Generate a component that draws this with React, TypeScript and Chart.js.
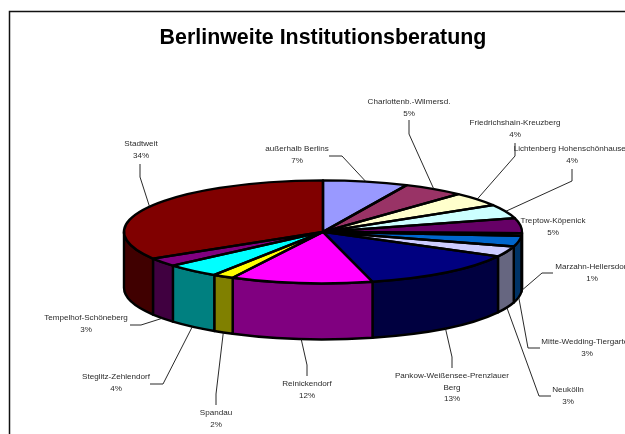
import React, { useEffect, useRef } from "react";
import { Chart, registerables } from "chart.js";

Chart.register(...registerables);

const chartTitle = "Berlinweite Institutionsberatung";
const categories = [
  "außerhalb Berlins",
  "Charlottenb.-Wilmersd.",
  "Friedrichshain-Kreuzberg",
  "Lichtenberg Hohenschönhausen",
  "Treptow-Köpenick",
  "Marzahn-Hellersdorf",
  "Mitte-Wedding-Tiergarten",
  "Neukölln",
  "Pankow-Weißensee-Prenzlauer\nBerg",
  "Reinickendorf",
  "Spandau",
  "Steglitz-Zehlendorf",
  "Tempelhof-Schöneberg",
  "Stadtweit",
];
const shares = [6.9, 5.0, 4.4, 4.4, 4.7, 0.8, 3.4, 3.3, 13.1, 11.5, 1.7, 4.4, 2.7, 33.7];
const sliceColors = [
  "#9999FF", "#993366", "#FFFFCC", "#CCFFFF", "#660066", "#FF8080", "#0066CC",
  "#CCCCFF", "#000080", "#FF00FF", "#FFFF00", "#00FFFF", "#800080", "#800000",
];

// Label placement: [text centre x, first line y]
const labelAnchors: number[][] = [
  [297, 149], [409, 102], [515, 123], [572, 149], [553, 221], [592, 267], [587, 342],
  [568, 390], [452, 376], [307, 384], [216, 413], [116, 377], [86, 318], [141, 144],
];
// Leader elbows, from the text side to the pie (empty: no leader line)
const leaderElbows: number[][][] = [
  [[329, 156], [342, 156]],
  [[409, 120], [409, 134]],
  [[515, 143], [515, 156]],
  [[572, 169], [572, 181]],
  [],
  [[553, 273], [542, 273]],
  [[540, 348], [528, 348]],
  [[551, 396], [539, 396]],
  [[452, 368], [452, 357]],
  [[307, 376], [307, 365]],
  [[216, 405], [216, 394]],
  [[150, 384], [163, 384]],
  [[130, 325], [141, 325]],
  [[140, 164], [140, 177]],
];

const PIE_RADIUS = 199;
const TILT = 0.2588;
const DEPTH = 56;
const LINE_GAP = 11.6;
const OUTLINE = 2.4;
const LABEL_FONT = '8.1px "Liberation Sans", Arial, sans-serif';

function darken(hex: string): string {
  const n = parseInt(hex.slice(1), 16);
  const f = (v: number) => Math.round(v / 2);
  return `rgb(${f((n >> 16) & 255)},${f((n >> 8) & 255)},${f(n & 255)})`;
}

const pie3d = {
  id: "pie3d",
  beforeDraw(chart: any) {
    const { ctx, width, height } = chart;
    ctx.save();
    ctx.fillStyle = "#fff";
    ctx.fillRect(0, 0, width, height);
    // Sheet frame, running off the right and bottom of the page
    ctx.strokeStyle = "#111";
    ctx.lineWidth = 1.5;
    ctx.beginPath();
    ctx.moveTo(9.5, height);
    ctx.lineTo(9.5, 11.5);
    ctx.lineTo(width, 11.5);
    ctx.stroke();
    ctx.restore();
  },
  beforeDatasetsDraw(chart: any) {
    const { ctx } = chart;
    const arcs = chart.getDatasetMeta(0).data;
    const { x: cx, y: cy } = arcs[0];
    const squash = () => {
      ctx.translate(cx, cy);
      ctx.scale(1, TILT);
      ctx.translate(-cx, -cy);
    };
    // Outer wall of each slice, only where the rim faces the viewer
    arcs.forEach((arc: any, i: number) => {
      const a0 = Math.max(arc.startAngle, 0);
      const a1 = Math.min(arc.endAngle, Math.PI);
      if (a1 <= a0) return;
      const r = arc.outerRadius;
      ctx.save();
      ctx.beginPath();
      ctx.save();
      ctx.translate(0, DEPTH);
      squash();
      ctx.arc(cx, cy, r, a0, a1);
      ctx.restore();
      ctx.save();
      squash();
      ctx.arc(cx, cy, r, a1, a0, true);
      ctx.restore();
      ctx.closePath();
      ctx.fillStyle = darken(sliceColors[i]);
      ctx.fill();
      ctx.strokeStyle = "#000";
      ctx.lineWidth = OUTLINE;
      ctx.lineJoin = "round";
      ctx.stroke();
      ctx.restore();
    });
    ctx.save();
    squash();
  },
  afterDatasetsDraw(chart: any) {
    const { ctx } = chart;
    ctx.restore();
    const arcs = chart.getDatasetMeta(0).data;
    const { x: cx, y: cy } = arcs[0];
    // Slice outlines on the top face, at an even pen width
    arcs.forEach((arc: any) => {
      ctx.save();
      ctx.beginPath();
      ctx.save();
      ctx.translate(cx, cy);
      ctx.scale(1, TILT);
      ctx.moveTo(0, 0);
      ctx.arc(0, 0, arc.outerRadius, arc.startAngle, arc.endAngle);
      ctx.closePath();
      ctx.restore();
      ctx.strokeStyle = "#000";
      ctx.lineWidth = OUTLINE;
      ctx.lineJoin = "round";
      ctx.stroke();
      ctx.restore();
    });
    // Leaders and labels
    const total = shares.reduce((a, b) => a + b, 0);
    ctx.save();
    arcs.forEach((arc: any, i: number) => {
      const mid = (arc.startAngle + arc.endAngle) / 2;
      const elbows = leaderElbows[i];
      if (elbows.length) {
        const rimX = cx + arc.outerRadius * Math.cos(mid);
        const onFront = Math.sin(mid) > 0;
        const rimY = cy + arc.outerRadius * TILT * Math.sin(mid) + (onFront ? DEPTH : 0);
        ctx.beginPath();
        elbows.forEach((p, k) => (k ? ctx.lineTo(p[0], p[1]) : ctx.moveTo(p[0], p[1])));
        ctx.lineTo(rimX, rimY);
        ctx.strokeStyle = "#111";
        ctx.lineWidth = 0.9;
        ctx.stroke();
      }
      ctx.fillStyle = "#2a2a2a";
      ctx.font = LABEL_FONT;
      ctx.textAlign = "center";
      ctx.textBaseline = "middle";
      const [lx, ly] = labelAnchors[i];
      const lines = [...categories[i].split("\n"), `${Math.round((shares[i] / total) * 100)}%`];
      lines.forEach((t, k) => ctx.fillText(t, lx, ly + k * LINE_GAP));
    });
    ctx.restore();
  },
};

export default function App() {
  const ref = useRef<HTMLCanvasElement>(null);
  useEffect(() => {
    document.body.style.margin = "0";
    document.documentElement.style.overflow = "hidden";
    const chart = new Chart(ref.current as HTMLCanvasElement, {
      type: "pie",
      data: {
        labels: categories,
        datasets: [
          {
            data: shares,
            backgroundColor: sliceColors,
            borderWidth: 0,
            radius: PIE_RADIUS,
            clip: false,
          } as any,
        ],
      },
      options: {
        responsive: false,
        animation: false,
        events: [],
        layout: { padding: { left: 100, right: 79, top: 0, bottom: 30 } },
        plugins: {
          legend: { display: false },
          tooltip: { enabled: false },
          title: {
            display: true,
            text: chartTitle,
            color: "#000",
            font: { family: '"Liberation Sans", Arial, sans-serif', size: 21.4, weight: "bold" },
            padding: { top: 25, bottom: 9 },
          },
        },
      },
      plugins: [pie3d],
    });
    return () => chart.destroy();
  }, []);
  return <canvas ref={ref} width={625} height={434} style={{ display: "block" }} />;
}
